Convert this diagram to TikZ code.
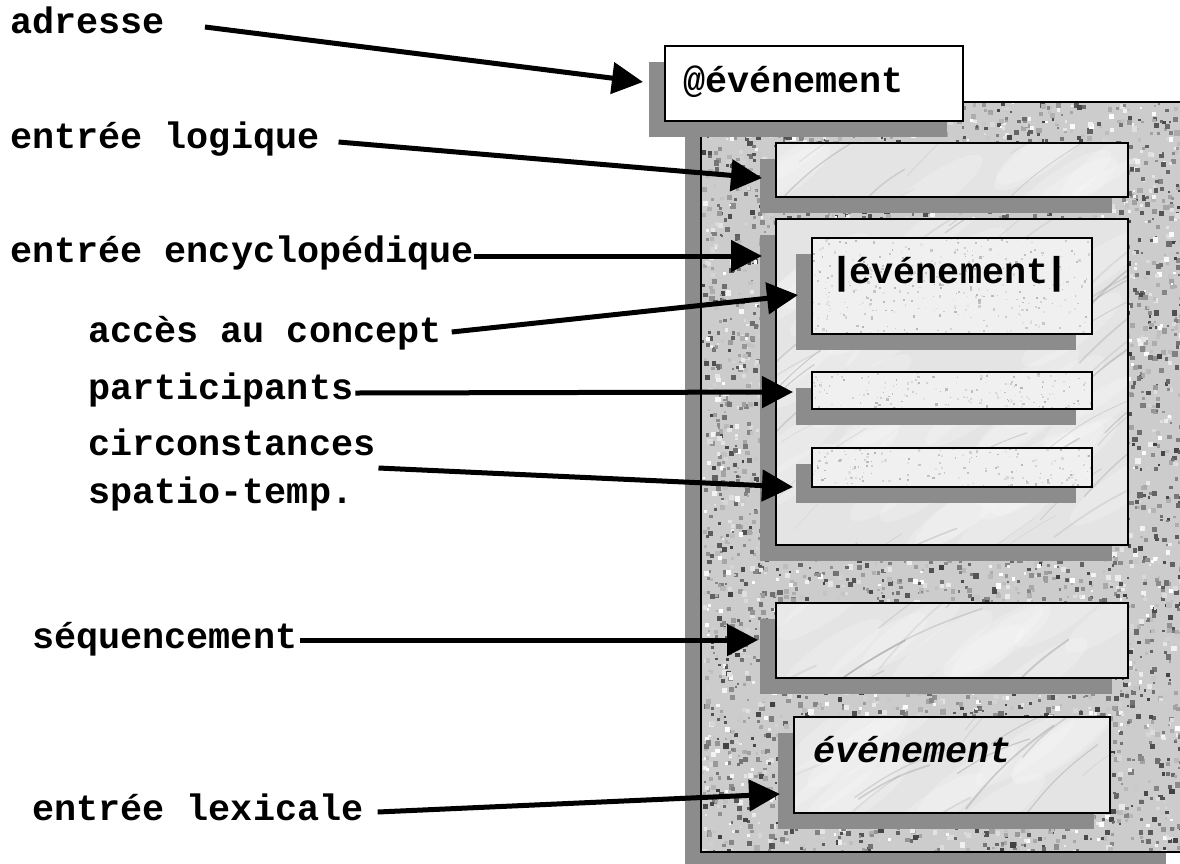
\documentclass[tikz,border=0pt]{standalone}
\usepackage{fontspec}
\newfontfamily\cour{Liberation Mono}
\newfontfamily\courheavy[FakeBold=3]{Liberation Mono}
\usetikzlibrary{arrows.meta}

\definecolor{shadowc}{RGB}{140,140,140}
\definecolor{granitec}{RGB}{204,204,204}
\definecolor{marblec}{RGB}{228,228,228}
\definecolor{paperc}{RGB}{240,240,240}

% random specks for the granite frame: x, y, w, h, count
\newcommand\granitedots[5]{%
  \foreach \k in {1,...,#5}{%
    \pgfmathsetmacro\gx{#1+#3*rnd}%
    \pgfmathsetmacro\gy{#2+#4*rnd}%
    \pgfmathsetmacro\gr{2+3.5*rnd}%
    \pgfmathtruncatemacro\gc{75*rnd}%
    \fill[black!\gc] (\gx,\gy) rectangle ++(\gr,\gr);%
  }%
}
% fine light specks: x, y, w, h, count
\newcommand\paperdots[5]{%
  \foreach \k in {1,...,#5}{%
    \pgfmathsetmacro\gx{#1+#3*rnd}%
    \pgfmathsetmacro\gy{#2+#4*rnd}%
    \pgfmathsetmacro\gr{1+1.6*rnd}%
    \pgfmathtruncatemacro\gc{10+20*rnd}%
    \fill[black!\gc] (\gx,\gy) rectangle ++(\gr,\gr);%
  }%
}
% veins and pale clouds of the marble: x, y, w, h, count
\newcommand\marbleveins[5]{%
  \foreach \k in {1,...,#5}{%
    \pgfmathsetmacro\mx{#1+#3*rnd}%
    \pgfmathsetmacro\my{#2+#4*rnd}%
    \fill[white, opacity=.2, rotate around={35:(\mx,\my)}] (\mx,\my) ellipse[x radius=60, y radius=16];%
  }%
  \foreach \k in {1,...,#5}{%
    \pgfmathsetmacro\mx{#1-60+(#3+60)*rnd}%
    \pgfmathsetmacro\my{#2+(#4+60)*rnd}%
    \pgfmathsetmacro\ml{50+110*rnd}%
    \pgfmathsetmacro\ma{-25-20*rnd}%
    \pgfmathsetmacro\mw{0.5+1.4*rnd}%
    \pgfmathtruncatemacro\mc{22+22*rnd}%
    \draw[black!\mc, line width=\mw pt, opacity=.4] (\mx,\my) to[bend left=8] ++(\ma:\ml);%
  }%
}
% shadowed panel: name, x, y, w, h, fill colour, texture code
\newcommand\panel[7]{%
  \fill[shadowc] (#2-16,#3+16) rectangle ++(#4,#5);
  \begin{scope}
    \clip (#2,#3) rectangle ++(#4,#5);
    \fill[#6] (#2,#3) rectangle ++(#4,#5);
    #7
  \end{scope}
  \node[border, minimum width=#4pt, minimum height=#5pt] (#1) at (#2,#3) {};
}

\begin{document}
\begin{tikzpicture}[x=1pt, y=-1pt,
  lbl/.style={font=\cour\bfseries\fontsize{36.8}{40}\selectfont, inner sep=0pt, anchor=base west},
  link/.style={line width=5pt, -{Triangle[length=31pt, width=31pt]}},
  border/.style={draw=black, line width=2.6pt, inner sep=0pt, outer sep=0pt, anchor=north west}]
\useasboundingbox (0,0) rectangle (1180,863);
\clip (0,0) rectangle (1180,863);
\fill[white] (0,0) rectangle (1180,863);
\pgfmathsetseed{11}

% granite frame of the entry
\panel{frame}{701}{102}{481}{750}{granitec}{\granitedots{701}{102}{481}{750}{6000}}
% address card
\panel{addr}{665}{46}{298}{75}{white}{}
% fields
\panel{logic}{776}{143}{352}{54}{marblec}{\marbleveins{776}{143}{352}{54}{10}}
\panel{ency}{776}{219}{352}{326}{marblec}{\marbleveins{776}{219}{352}{326}{40}}
\panel{concept}{812}{238}{280}{96}{paperc}{\paperdots{812}{238}{280}{96}{350}}
\panel{partic}{812}{372}{280}{37}{paperc}{\paperdots{812}{372}{280}{37}{170}}
\panel{circ}{812}{448}{280}{39}{paperc}{\paperdots{812}{448}{280}{39}{170}}
\panel{seq}{776}{603}{352}{75}{marblec}{\marbleveins{776}{603}{352}{75}{12}}
\panel{lex}{794}{717}{316}{96}{marblec}{\marbleveins{794}{717}{316}{96}{14}}

% texts inside the panels
\node[lbl] (addrtxt) at (683,92) {@événement};
\node[lbl, anchor=base] (concepttxt) at (949,283) {{\courheavy\bfseries|}\kern-3pt événement\kern-3pt{\courheavy\bfseries|}};
\node[lbl, font=\cour\bfseries\itshape\fontsize{36.8}{40}\selectfont] (lextxt) at (813,762) {événement};

% labels
\node[lbl] (adr) at (10,33) {adresse};
\node[lbl] (logl) at (10,148) {entrée logique};
\node[lbl] (encl) at (10,262) {entrée encyclopédique};
\node[lbl] (accl) at (88,342) {accès au concept};
\node[lbl] (parl) at (88,399) {participants};
\node[lbl] (circl) at (88,455) {circonstances};
\node[lbl] (circm) at (88,503) {spatio-temp.};
\node[lbl] (seql) at (32,648) {séquencement};
\node[lbl] (lexl) at (32,820) {entrée lexicale};

% arrow tips at the shadow edges
\coordinate (t1) at (643,82);
\coordinate (t2) at (762,178);
\coordinate (t3) at (762,256);
\coordinate (t4) at (798,295);
\coordinate (t5) at (793,392);
\coordinate (t6) at (793,487);
\coordinate (t7) at (758,640);
\coordinate (t8) at (780,794);

% connectors
\draw[link] ([shift={(40,-6)}]adr.base east) -- (t1);
\draw[link] ([shift={(19,-6)}]logl.base east) -- (t2);
\draw[link] ([shift={(0,-6)}]encl.base east) -- (t3);
\draw[link] ([shift={(10,-10)}]accl.base east) -- (t4);
\draw[link] ([shift={(2,-6)}]parl.base east) -- (t5);
\draw[link] ([shift={(3,13)}]circl.base east) -- (t6);
\draw[link] ([shift={(3,-8)}]seql.base east) -- (t7);
\draw[link] ([shift={(14,-8)}]lexl.base east) -- (t8);
\end{tikzpicture}
\end{document}
